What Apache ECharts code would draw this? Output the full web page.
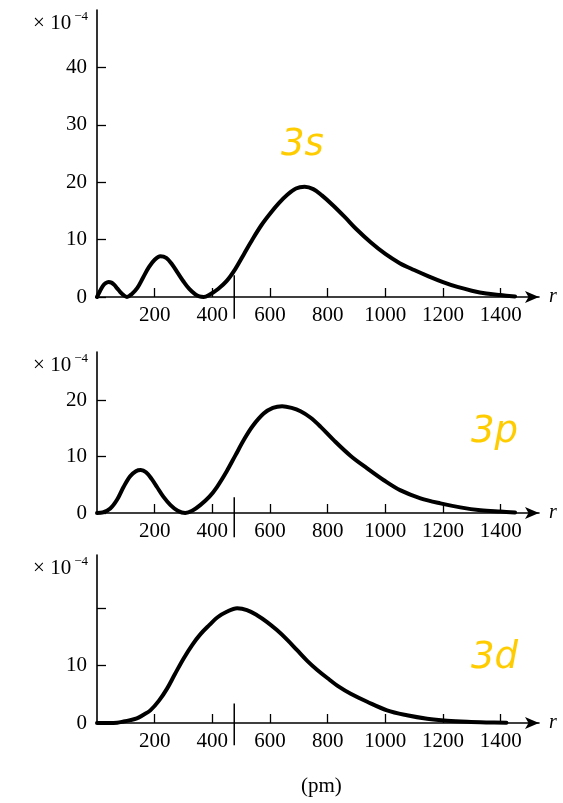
<!DOCTYPE html>
<html>
<head>
<meta charset="utf-8">
<script src="https://cdn.jsdelivr.net/npm/echarts@6/dist/echarts.min.js"></script>
<style>
  html, body { margin: 0; padding: 0; background: #fff; }
  #chart { width: 563px; height: 803px; }
</style>
</head>
<body>
<div id="chart"></div>
<script>
// radial distribution (x10^-4 pm^-1)
const r3s = [0, 10, 20, 30, 40, 50, 60, 70, 80, 90, 104, 120, 140, 160, 180, 200, 220, 240, 260, 280, 300, 320, 340, 355, 370,
  390, 420, 450, 480, 510, 540, 570, 600, 630, 660, 690, 720, 750, 780, 820, 860, 900, 950, 1000, 1050, 1100, 1150, 1200,
  1250, 1300, 1350, 1400, 1450]
const p3s = [0, 1.0, 1.9, 2.4, 2.6, 2.5, 2.1, 1.5, 0.9, 0.4, 0, 0.5, 1.6, 3.4, 5.2, 6.5, 7.1, 6.8, 5.7, 4.2, 2.7, 1.4, 0.5, 0.1, 0,
  0.4, 1.4, 2.8, 4.9, 7.5, 10.1, 12.5, 14.5, 16.3, 17.8, 18.9, 19.2, 18.8, 17.7, 15.9, 13.9, 11.8, 9.5, 7.5, 5.9, 4.7, 3.6, 2.6,
  1.75, 1.1, 0.6, 0.33, 0.1]

const r3p = [0, 20, 46, 70, 92, 115, 135, 152, 170, 190, 208, 230, 255, 280, 306, 330, 358, 390, 416, 450, 480, 510, 540, 578,
  610, 642, 675, 706, 740, 775, 821, 880, 937, 995, 1053, 1122, 1191, 1260, 1330, 1400, 1450]
const p3p = [0, 0.1, 0.8, 2.4, 4.6, 6.5, 7.4, 7.6, 7.2, 6.0, 4.6, 2.9, 1.4, 0.4, 0, 0.4, 1.4, 2.9, 4.6, 7.4, 10.2, 13.0, 15.4, 17.6,
  18.6, 18.9, 18.6, 18.0, 16.9, 15.3, 12.9, 10.1, 7.9, 5.8, 4.0, 2.6, 1.7, 1.0, 0.5, 0.25, 0.1]

const r3d = [0, 40, 70, 92, 115, 138, 160, 185, 215, 243, 270, 301, 330, 359, 390, 417, 450, 486, 520, 555, 590, 624, 660, 694,
  730, 763, 800, 840, 880, 937, 1006, 1075, 1145, 1214, 1284, 1350, 1420]
const p3d = [0, 0, 0.05, 0.25, 0.5, 0.8, 1.4, 2.2, 3.9, 6.0, 8.5, 11.3, 13.6, 15.5, 17.1, 18.4, 19.4, 20.0, 19.7, 18.8, 17.6, 16.2,
  14.5, 12.7, 10.8, 9.3, 7.8, 6.3, 5.1, 3.7, 2.2, 1.35, 0.75, 0.4, 0.2, 0.1, 0.05]

const xTicks = [200, 400, 600, 800, 1000, 1200, 1400]
const yTicks1 = [0, 10, 20, 30, 40]
const yLabels1 = [0, 10, 20, 30, 40]
const yTicks2 = [0, 10, 20]
const yLabels2 = [0, 10, 20]
const yTicks3 = [0, 10, 20]
const yLabels3 = [0, 10]
const yMax = [50, 28.5, 29.3]
const rMax = 1533
const rMark = 476   // long mark on the r axis
const orbitals = ['3s', '3p', '3d']

const serif = '"Liberation Serif", "DejaVu Serif", serif'
const black = '#000'
const gold = '#FFCC00'
const tagFont = 'italic 37px "DejaVu Sans", "Noto Sans", sans-serif'

function zip(xs, ys) {
  return xs.map((x, i) => [x, ys[i]])
}

const grids = [
  { left: 97, right: 24, top: 10, bottom: 506 },
  { left: 97, right: 24, top: 352, bottom: 290 },
  { left: 97, right: 24, top: 555, bottom: 80 }
]

const markExtent = [[-3.8, 3.8], [-4.3, 2.8], [-3.9, 3.4]]

function xAxisFor(i) {
  return {
    type: 'value',
    gridIndex: i,
    min: 0,
    max: rMax,
    name: 'r',
    nameGap: 10,
    nameTextStyle: { fontFamily: serif, fontStyle: 'italic', fontSize: 20, color: black },
    axisLine: {
      show: true,
      onZero: false,
      symbol: ['none', 'arrow'],
      symbolSize: [9, 14],
      lineStyle: { color: black, width: 1.6 }
    },
    axisTick: { show: true, inside: true, length: 9, customValues: xTicks, lineStyle: { color: black, width: 1.3 } },
    axisLabel: {
      show: true,
      customValues: xTicks,
      margin: 8,
      fontFamily: serif,
      fontSize: 21,
      color: black,
      formatter: v => String(v)
    },
    splitLine: { show: false }
  }
}

function yAxisFor(i, ticks, labels) {
  return {
    type: 'value',
    gridIndex: i,
    min: 0,
    max: yMax[i],
    name: '{a|× 10}{b|−4}',
    nameLocation: 'end',
    nameGap: -13,
    nameTextStyle: {
      align: 'right',
      verticalAlign: 'middle',
      padding: [0, 9, 0, 0],
      rich: {
        a: { fontFamily: serif, fontSize: 21, color: black, lineHeight: 22 },
        b: { fontFamily: serif, fontSize: 13, color: black, verticalAlign: 'top', padding: [0, 0, 12, 3] }
      }
    },
    axisLine: { show: true, lineStyle: { color: black, width: 1.6 } },
    axisTick: { show: true, inside: true, length: 9, customValues: ticks, lineStyle: { color: black, width: 1.3 } },
    axisLabel: { show: true, customValues: labels, margin: 10, fontFamily: serif, fontSize: 21, color: black },
    splitLine: { show: false }
  }
}

function curve(i, data) {
  return {
    type: 'line',
    xAxisIndex: i,
    yAxisIndex: i,
    data: data,
    smooth: 0.35,
    showSymbol: false,
    silent: true,
    animation: false,
    lineStyle: { color: black, width: 4, join: 'round', cap: 'round' }
  }
}

function mark(i) {
  return {
    type: 'line',
    xAxisIndex: i,
    yAxisIndex: i,
    data: [[rMark, markExtent[i][0]], [rMark, markExtent[i][1]]],
    showSymbol: false,
    silent: true,
    animation: false,
    clip: false,
    lineStyle: { color: black, width: 1.5 }
  }
}

const chart = echarts.init(document.getElementById('chart'), null, { renderer: 'canvas' })

chart.setOption({
  backgroundColor: '#fff',
  animation: false,
  grid: grids,
  xAxis: [xAxisFor(0), xAxisFor(1), xAxisFor(2)],
  yAxis: [
    yAxisFor(0, yTicks1, yLabels1),
    yAxisFor(1, yTicks2, yLabels2),
    yAxisFor(2, yTicks3, yLabels3)
  ],
  series: [
    curve(0, zip(r3s, p3s)),
    curve(1, zip(r3p, p3p)),
    curve(2, zip(r3d, p3d)),
    mark(0), mark(1), mark(2)
  ],
  graphic: [
    { type: 'text', left: 281, top: 127, style: { text: orbitals[0], fill: gold, font: tagFont } },
    { type: 'text', left: 471, top: 414, style: { text: orbitals[1], fill: gold, font: tagFont } },
    { type: 'text', left: 471, top: 640, style: { text: orbitals[2], fill: gold, font: tagFont } },
    { type: 'text', left: 301, top: 776, style: { text: '(pm)', fill: black, font: '21px "Liberation Serif", serif' } }
  ]
})
</script>
</body>
</html>
